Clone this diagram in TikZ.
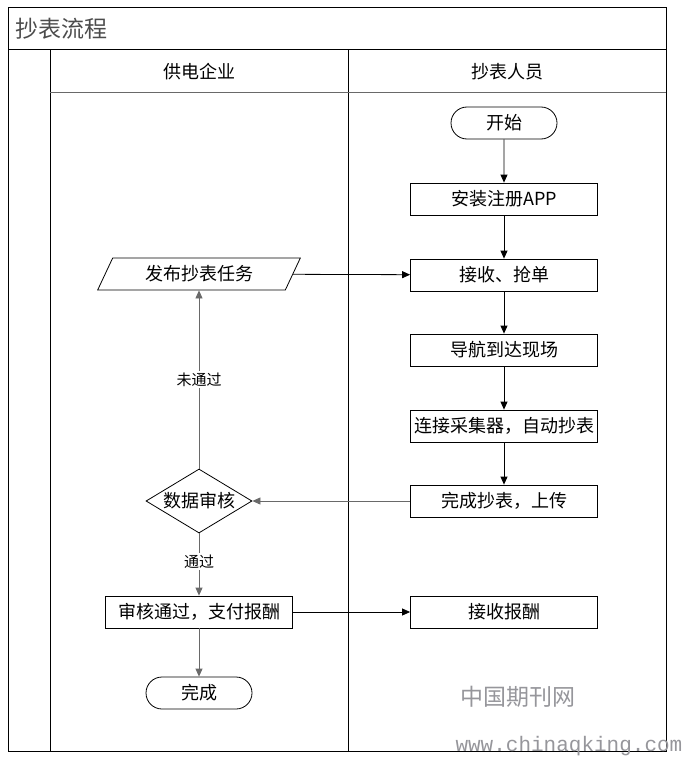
\documentclass[tikz,border=0pt]{standalone}
\usepackage{fontspec}
\setmainfont{Noto Sans CJK SC}
\newfontfamily\urlfont{Liberation Mono}
\usetikzlibrary{shapes.geometric,shapes.misc,arrows.meta}
\definecolor{flowgray}{RGB}{105,105,105}
\definecolor{markgray}{RGB}{150,150,155}

\tikzset{
  frame/.style={draw=black, line width=1pt},
  lanehead/.style={font=\fontsize{18}{18}\selectfont},
  procbox/.style={draw, line width=0.8pt, minimum width=187pt, minimum height=32pt,
    inner sep=0pt, font=\fontsize{18}{18}\selectfont},
  termbox/.style={draw, line width=0.8pt, rounded rectangle, minimum width=106pt,
    minimum height=32pt, inner sep=0pt, font=\fontsize{18}{18}\selectfont},
  iobox/.style={draw, line width=0.8pt, trapezium, trapezium left angle=60.6,
    trapezium right angle=119.4, trapezium stretches=true, minimum width=203pt,
    minimum height=32pt, inner sep=0pt, font=\fontsize{18}{18}\selectfont},
  checkbox/.style={draw, line width=0.8pt, diamond, aspect=1.66, minimum width=106pt,
    minimum height=64pt, inner sep=0pt, font=\fontsize{18}{18}\selectfont},
  flow/.style={line width=0.8pt, -{Triangle[length=8pt,width=7pt]}},
  flowleft/.style={flow, draw=flowgray, color=flowgray},
  edgelabel/.style={fill=white, text=black, inner sep=2pt, font=\fontsize{15}{15}\selectfont}
}

\begin{document}
\begin{tikzpicture}[x=1pt,y=-1pt]
\useasboundingbox (0,0) rectangle (685,757);

% pool and lanes
\draw[frame] (8,8) rectangle (666,751);
\draw[frame] (8,50) -- (666,50);
\draw[frame] (50,50) -- (50,751);
\draw[frame] (348,50) -- (348,751);
\draw[frame, draw=flowgray] (50,93) -- (666,93);
\node[anchor=west, text=black!70, font=\fontsize{23}{23}\selectfont] (title) at (12,29) {抄表流程};
\node[lanehead] (supplier) at (199,71.5) {供电企业};
\node[lanehead] (reader) at (507,71.5) {抄表人员};

% 抄表人员
\node[termbox] (start) at (504,123) {开始};
\node[procbox] (install) at (504,199) {安装注册APP};
\node[procbox] (accept) at (504,275) {接收、抢单};
\node[procbox] (navigate) at (504,350) {导航到达现场};
\node[procbox] (connect) at (504,426) {连接采集器，自动抄表};
\node[procbox] (upload) at (504,501) {完成抄表，上传};
\node[procbox] (receive) at (504,612) {接收报酬};

% 供电企业
\node[iobox] (publish) at (199,274) {发布抄表任务};
\node[checkbox] (audit) at (199,501) {数据审核};
\node[procbox] (pay) at (199,612) {审核通过，支付报酬};
\node[termbox] (finish) at (199,693) {完成};

\draw[flow] (start) -- (install);
\draw[flow] (install) -- (accept);
\draw[flow] (accept) -- (navigate);
\draw[flow] (navigate) -- (connect);
\draw[flow] (connect) -- (upload);
\draw[flow] (publish) -- (accept);
\draw[flowleft] (upload) -- (audit);
\draw[flowleft] (audit) -- node[edgelabel] {未通过} (publish);
\draw[flowleft] (audit) -- node[edgelabel, pos=0.45] {通过} (pay);
\draw[flow] (pay) -- (receive);
\draw[flowleft] (pay) -- (finish);

% watermark
\node[text=markgray, font=\fontsize{23}{23}\selectfont] (markcn) at (518,697) {中国期刊网};
\node[anchor=west, text=markgray, font=\urlfont\fontsize{21}{21}\selectfont] (markurl) at (452,746) {www.chinaqking.com};
\end{tikzpicture}
\end{document}
